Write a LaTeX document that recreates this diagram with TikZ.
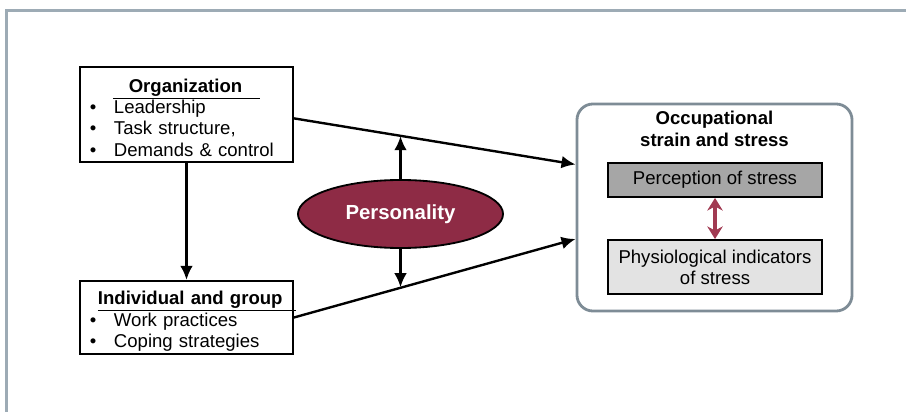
\documentclass[tikz,border=0pt]{standalone}
\usepackage{fontspec}
\setmainfont{Liberation Sans}
\usetikzlibrary{positioning,calc,arrows.meta,shapes.geometric}
\definecolor{frameblue}{HTML}{9DABB5}
\definecolor{outergrey}{HTML}{7E8C96}
\definecolor{maroon}{HTML}{8E2B45}
\definecolor{arrowred}{HTML}{A13A52}
\definecolor{midgrey}{HTML}{A6A6A6}
\definecolor{lightgrey}{HTML}{E3E3E3}
\newcommand{\bulletline}[1]{\makebox[0.6cm][l]{\textbullet}#1}

\begin{document}
\begin{tikzpicture}[
    x=0.025cm, y=-0.025cm,
    every node/.style={font=\fontsize{13.2}{15.2}\selectfont},
    factor/.style={rectangle, draw, line width=1.3pt, minimum width=5.325cm, text width=4.825cm, inner xsep=0.25cm, inner ysep=2pt, align=left},
    outcome/.style={rectangle, rounded corners=0.4cm, draw=outergrey, line width=2pt, minimum width=6.875cm, minimum height=5.175cm},
    measure/.style={rectangle, draw, line width=1.3pt, minimum width=5.35cm, align=center},
    trait/.style={ellipse, draw, line width=1.3pt, fill=maroon, text=white, font=\fontsize{14.5}{17}\selectfont\bfseries, minimum width=5.125cm, minimum height=1.7cm, inner sep=0pt},
    arrow/.style={-{Latex[length=10pt,width=9pt]}, line width=1.7pt},
    linkarrow/.style={{Stealth[length=9pt,width=11pt]}-{Stealth[length=9pt,width=11pt]}, draw=arrowred, line width=2.6pt}
]
    \useasboundingbox (0,0) rectangle (906,412);
    % Frame
    \draw[frameblue, line width=1.5pt] (6.5,412) -- (6.5,10.5) -- (906,10.5);

    % Sources of stress
    \node[factor, minimum height=2.375cm] (org) at (186.5,114.5) {%
        \rule{0pt}{14pt}\makebox[4.825cm]{\underline{\hspace*{0.4cm}\textbf{Organization}\hspace*{0.45cm}}}\\
        \bulletline{Leadership}\\
        \bulletline{Task structure,}\\
        \bulletline{Demands \& control}};
    \node[factor, minimum height=1.825cm] (indiv) at (186.5,317.5) {%
        \rule{0pt}{15pt}\makebox[4.825cm][l]{\hspace*{0.2cm}\underline{\textbf{Individual and group}\hspace*{0.33cm}}}\\
        \bulletline{Work practices}\\
        \bulletline{Coping strategies}};

    % Moderator
    \node[trait] (pers) at (400.5,214) {Personality};

    % Outcome
    \node[outcome] (strain) at (714.5,207.5) {};
    \node[align=center, font=\fontsize{13.2}{15.5}\selectfont\bfseries] (strain_title) at (714.5,129) {Occupational\\strain and stress};
    \node[measure, fill=midgrey, minimum height=0.85cm] (perception) at (715,180) {Perception of stress};
    \node[measure, fill=lightgrey, minimum height=1.35cm, font=\fontsize{13.2}{15}\selectfont] (physio) at (715,267) {Physiological indicators\\of stress};

    \coordinate (strain_in_top) at ($(strain.north west)!0.295!(strain.south west)$);
    \coordinate (strain_in_bottom) at ($(strain.north west)!0.65!(strain.south west)$);

    % Connections
    \draw[arrow] (org.south) -- (indiv.north);
    \draw[arrow] ($(org.north east)!0.54!(org.south east)$) -- coordinate[pos=0.385] (top_mid) (strain_in_top);
    \draw[arrow] (indiv.east) -- coordinate[pos=0.385] (bottom_mid) (strain_in_bottom);
    \draw[arrow] (pers.north) -- (top_mid -| pers.north);
    \draw[arrow] (pers.south) -- (bottom_mid -| pers.south);
    \draw[linkarrow] (perception.south) -- (physio.north);
\end{tikzpicture}
\end{document}
